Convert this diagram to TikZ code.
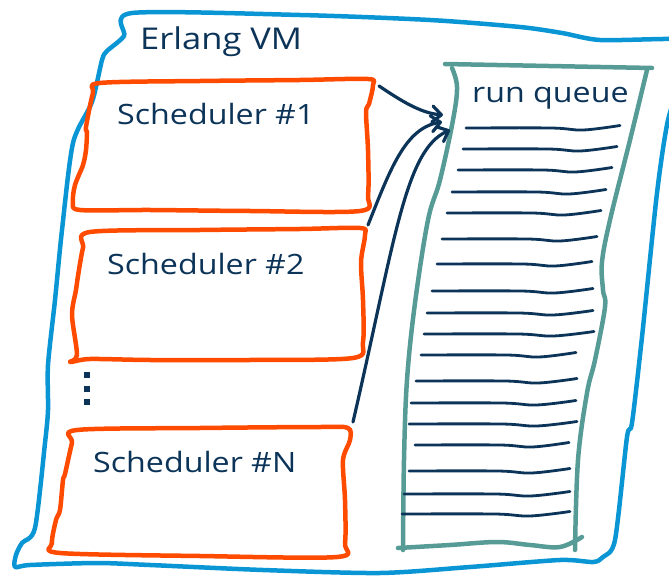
\documentclass[tikz,border=0pt]{standalone}
\usepackage{fontspec}
\setmainfont{Open Sans}[FakeStretch=1.15]
\usetikzlibrary{arrows.meta}
\definecolor{vmblue}{RGB}{10,150,212}
\definecolor{schedorange}{RGB}{255,75,0}
\definecolor{queueteal}{RGB}{86,155,150}
\definecolor{inknavy}{RGB}{12,52,88}
\tikzset{
  vmborder/.style={draw=vmblue, line width=4.5pt, line join=round, line cap=round},
  schedbox/.style={draw=schedorange, line width=4.5pt, line join=round, line cap=round},
  queuepen/.style={draw=queueteal, line width=4.5pt, line join=round, line cap=round},
  qline/.style={draw=inknavy, line width=2.8pt, line cap=round},
  flow/.style={draw=inknavy, line width=3.2pt, line cap=round, line join=round,
    -{Straight Barb[length=9pt,width=16pt,round]}},
  label/.style={text=inknavy, anchor=base west, inner sep=0pt, font=\fontsize{28}{30}\selectfont},
  dotmark/.style={fill=inknavy, minimum size=6pt, inner sep=0pt}
}
\begin{document}
\begin{tikzpicture}[x=1pt,y=-1pt]
\useasboundingbox (0,0) rectangle (669,577);
\clip (0,0) rectangle (669,577);

% Erlang VM border
\draw[vmborder] plot[smooth cycle, tension=0.45] coordinates {
  (132,13) (300,15) (430,20) (520,27) (562,33) (600,40) (669,39) (692,42) (682,80)
  (668,120) (657,193) (642,337) (632,423) (627,437) (615,540) (603,557) (593,562)
  (560,560) (470,567) (380,573) (263,570) (150,565) (97,563) (30,565) (15,567)
  (16,555) (22,543) (35,528) (45,443) (48,410) (48,365) (55,300) (62,230)
  (73,143) (92,102) (102,60) (107,51) (124,36)};
\node[label, font=\fontsize{30}{32}\selectfont] (vm) at (140,50) {Erlang VM};

% Scheduler boxes
\draw[schedbox] plot[smooth cycle, tension=0.5] coordinates {
  (100,83) (200,81) (300,80) (368,79) (373,85) (369,104) (366,112) (368,150)
  (368,195) (360,211) (250,211) (150,210) (80,210) (73,202) (75,185) (83,165)
  (86,150) (87,132) (86,127) (93,93)};
\node[label] (s1) at (117,125) {Scheduler \#1};

\draw[schedbox] plot[smooth cycle, tension=0.5] coordinates {
  (90,232) (200,230) (300,229) (360,228) (365,235) (361,262) (363,300) (363,342)
  (353,358) (250,360) (150,360) (90,359) (70,362) (77,355) (72,315) (76,290)
  (78,276) (83,248)};
\node[label] (s2) at (107,275) {Scheduler \#2};

\node[dotmark] (d1) at (87,375) {};
\node[dotmark] (d2) at (87,389) {};
\node[dotmark] (d3) at (87,402) {};

\draw[schedbox] plot[smooth cycle, tension=0.5] coordinates {
  (77,430) (200,428) (320,427) (348,428) (350,440) (343,460) (345,500) (345,543)
  (337,557) (200,556) (60,553) (52,543) (56,520) (60,510) (63,480) (65,474) (72,443)};
\node[label] (sN) at (93,472) {Scheduler \#N};

% Run queue
\draw[queuepen] (445,64) -- (652,68);
\draw[queuepen] plot[smooth, tension=0.6] coordinates {
  (452,68) (457,87) (453,120) (440,180) (428,220) (415,303) (407,380) (404,460) (403,550)};
\draw[queuepen] plot[smooth, tension=0.6] coordinates {
  (647,70) (630,140) (610,220) (602,262) (603,290) (605,307) (595,360) (587,393)
  (578,460) (575,550)};
\draw[queuepen] plot[smooth, tension=0.6] coordinates {
  (398,548) (450,545) (497,542) (530,545) (560,547) (582,537)};
\node[label] (rq) at (472,103) {run queue};

\foreach \a/\y/\b in {466/128/620, 463/149/617, 458/170/612, 452/192/606,
  447/213/601, 442/239/597, 437/264/592, 432/291/593, 427/313/593, 424/334/594,
  421/355/576, 416/381/577, 411/403/576, 409/424/577, 415/445/569, 409/471/570,
  404/494/570, 402/514/570} {
  \draw[qline] plot[smooth, tension=0.6] coordinates {
    (\a,\y) ({\a+0.55*(\b-\a)},{\y}) ({\a+0.76*(\b-\a)},{\y+2}) (\b,{\y-2.5})};
}

% Connectors
\coordinate (a1s) at (379,86);
\coordinate (a1e) at (443,115);
\coordinate (a2s) at (368,225);
\coordinate (a2e) at (442,122);
\coordinate (a3s) at (353,422);
\coordinate (a3e) at (450,130);
\draw[flow] (a1s) .. controls (400,100) and (420,113) .. (a1e);
\draw[flow] (a2s) .. controls (390,170) and (405,128) .. (a2e);
\draw[flow] (a3s) .. controls (395,240) and (405,150) .. (a3e);
\end{tikzpicture}
\end{document}
